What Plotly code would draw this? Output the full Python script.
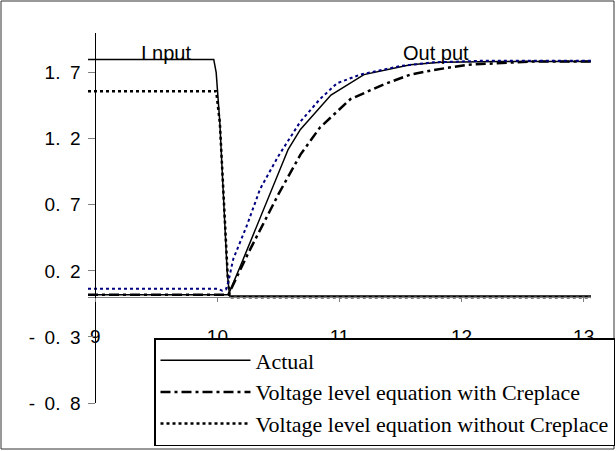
import plotly.graph_objects as go

# Inverter transient: time in ns, voltage in V
# Input waveforms
t_in_actual = [8.94, 9.97, 9.99, 10.02, 10.04, 10.07, 10.08, 10.10, 13.06]
v_in_actual = [1.80, 1.80, 1.70, 1.32, 0.94, 0.44, 0.19, 0.01, 0.01]

t_in_without = [8.94, 9.99, 10.02, 10.04, 10.07, 10.085, 10.10, 13.06]
v_in_without = [1.56, 1.56, 1.32, 0.94, 0.44, 0.15, 0.00, 0.00]

# Output waveforms
t_out_actual = [8.94, 10.09, 10.19, 10.30, 10.41, 10.52, 10.58, 10.68, 10.93,
                11.20, 11.58, 11.83, 12.32, 13.06]
v_out_actual = [0.02, 0.02, 0.24, 0.49, 0.74, 0.99, 1.12, 1.27, 1.53,
                1.685, 1.76, 1.778, 1.785, 1.785]

t_out_with = [8.94, 10.09, 10.25, 10.41, 10.50, 10.68, 10.84, 11.09, 11.36,
              11.58, 11.77, 12.05, 12.32, 12.60, 13.06]
v_out_with = [0.02, 0.02, 0.33, 0.62, 0.78, 1.08, 1.285, 1.50, 1.61,
              1.685, 1.72, 1.76, 1.773, 1.785, 1.785]

t_out_without = [8.94, 10.00, 10.04, 10.07, 10.09, 10.13, 10.24, 10.35, 10.50,
                 10.68, 10.84, 10.98, 11.17, 11.50, 11.77, 12.18, 13.06]
v_out_without = [0.065, 0.065, 0.05, 0.06, 0.12, 0.29, 0.54, 0.82, 1.07,
                 1.33, 1.50, 1.62, 1.685, 1.75, 1.778, 1.79, 1.79]

series_names = ["Actual",
                "Voltage level equation with Creplace",
                "Voltage level equation without Creplace"]

x_tick_vals = [9, 10, 11, 12, 13]
x_tick_text = ["9", "10", "11", "12", "13"]
y_tick_vals = [-0.8, -0.3, 0.2, 0.7, 1.2, 1.7]
y_tick_text = ["-\u20020.\u20028", "-\u20020.\u20023", "0.\u20022",
               "0.\u20027", "1.\u20022", "1.\u20027"]

W, H = 616, 451
X_RANGE = [8.94, 13.06]
Y_RANGE = [-0.8, 2.0]
L, R, T, B = 88, 25, 33, 48
plot_w = W - L - R
plot_h = H - T - B

solid = dict(color="black", width=1.5)
dashdot = dict(color="black", width=2.5, dash="10px,4px,3px,4px")
dotted = dict(color="black", width=2.5, dash="3px,3px")
dotted_navy = dict(color="#000080", width=2, dash="3px,3px")

fig = go.Figure()
fig.add_trace(go.Scatter(x=t_in_actual, y=v_in_actual, mode="lines", line=solid,
                         name=series_names[0], legendrank=1))
fig.add_trace(go.Scatter(x=t_out_actual, y=v_out_actual, mode="lines", line=solid,
                         name=series_names[0], showlegend=False))
fig.add_trace(go.Scatter(x=t_out_with, y=v_out_with, mode="lines", line=dashdot,
                         name=series_names[1], legendrank=2))
fig.add_trace(go.Scatter(x=t_in_without, y=v_in_without, mode="lines", line=dotted,
                         name=series_names[2], legendrank=3))
fig.add_trace(go.Scatter(x=t_out_without, y=v_out_without, mode="lines", line=dotted_navy,
                         name=series_names[2], showlegend=False))

# outer chart frame, expressed in paper units of the plot area
fig.add_shape(type="rect", xref="paper", yref="paper",
              x0=(1 - L) / plot_w, x1=(614 - L) / plot_w,
              y0=-(B - 2) / plot_h, y1=1 + (T - 1) / plot_h,
              line=dict(color="#333333", width=1), layer="below")

fig.add_annotation(x=9.58, y=1.845, text="I nput", showarrow=False,
                   xanchor="center", yanchor="middle",
                   font=dict(family="Liberation Sans", size=20, color="black"))
fig.add_annotation(x=11.79, y=1.845, text="Out put", showarrow=False,
                   xanchor="center", yanchor="middle",
                   font=dict(family="Liberation Sans", size=20, color="black"))

fig.update_layout(
    width=W, height=H,
    margin=dict(l=L, r=R, t=T, b=B, autoexpand=False),
    paper_bgcolor="white", plot_bgcolor="white",
    font=dict(family="Liberation Sans", size=19, color="black"),
    showlegend=True,
    legend=dict(xref="container", yref="container",
                x=154 / W, y=1 - 338 / H, xanchor="left", yanchor="top",
                bgcolor="white", bordercolor="black", borderwidth=1.5,
                font=dict(family="Liberation Serif", size=22, color="black"),
                itemwidth=90, tracegroupgap=0),
    xaxis=dict(range=X_RANGE, anchor="free", position=0.8 / 2.8,
               showline=True, linecolor="#808080", linewidth=1,
               ticks="outside", ticklen=4, tickcolor="#808080",
               tickvals=x_tick_vals, ticktext=x_tick_text,
               ticklabelstandoff=18,
               showgrid=False, zeroline=False),
    yaxis=dict(range=Y_RANGE, anchor="free", position=(9 - X_RANGE[0]) / (X_RANGE[1] - X_RANGE[0]),
               showline=True, linecolor="black", linewidth=1,
               ticks="outside", ticklen=7, tickcolor="#808080",
               tickvals=y_tick_vals, ticktext=y_tick_text,
               ticklabelstandoff=4,
               showgrid=False, zeroline=False),
)

fig.write_html("out.html")
